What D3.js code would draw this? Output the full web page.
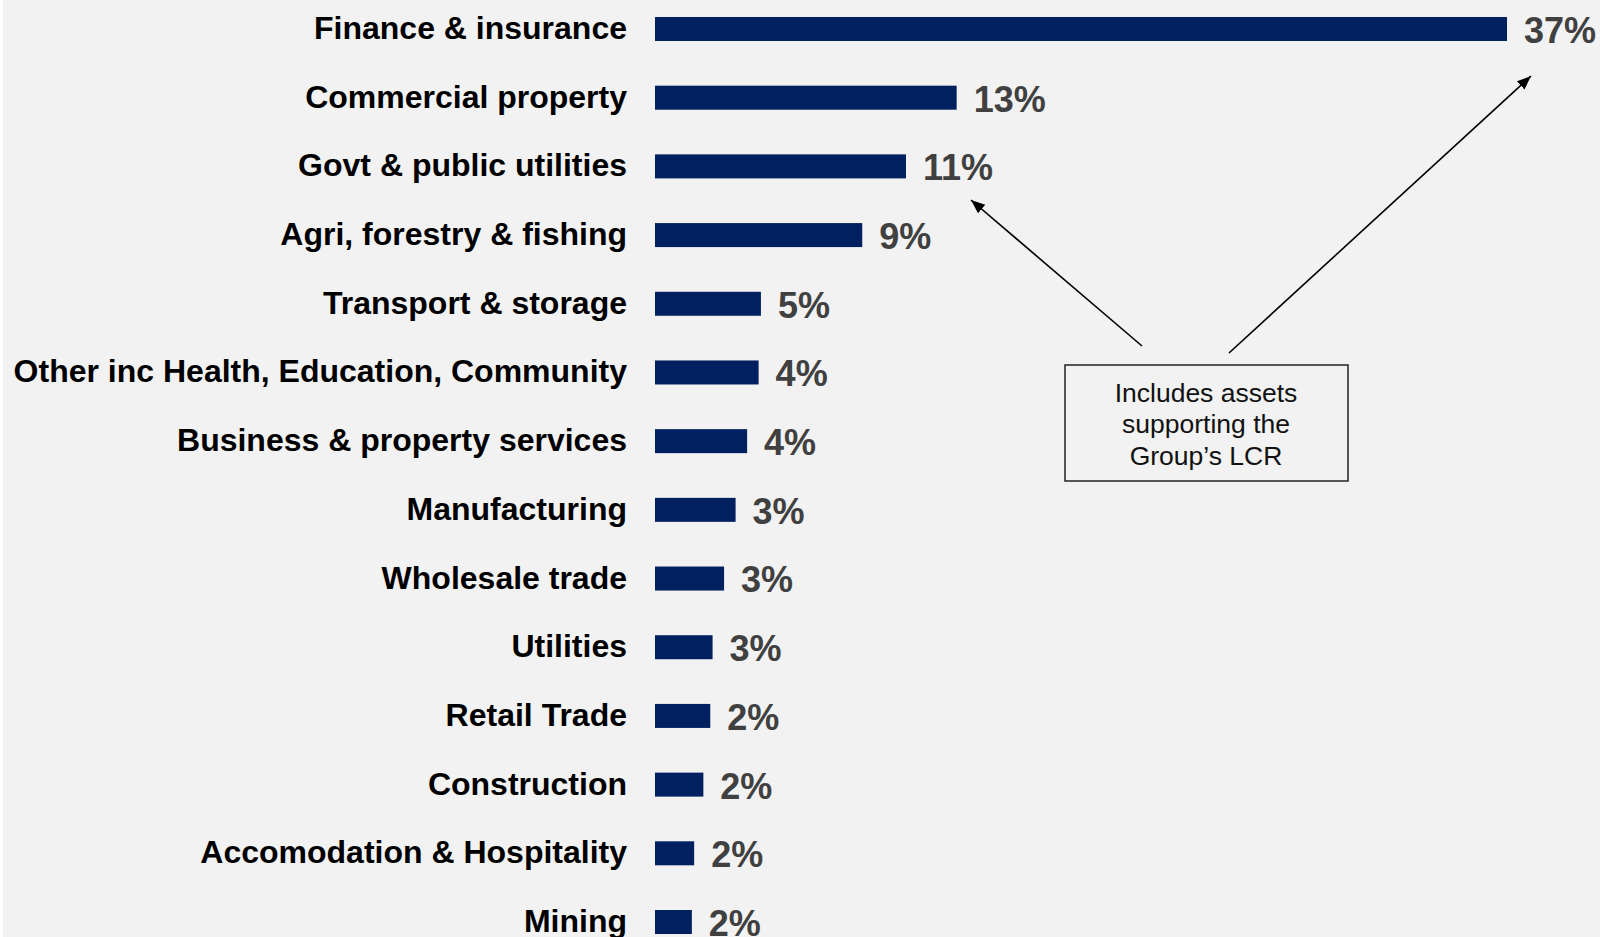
<!DOCTYPE html>
<html><head><meta charset="utf-8">
<script src="https://cdn.jsdelivr.net/npm/d3@7"></script>
<style>
html,body{margin:0;padding:0;background:#f2f2f2;}
svg{display:block;}
</style></head>
<body>
<svg id="chart" width="1600" height="937"></svg>
<script>
const categories = ["Finance & insurance","Commercial property","Govt & public utilities","Agri, forestry & fishing","Transport & storage","Other inc Health, Education, Community","Business & property services","Manufacturing","Wholesale trade","Utilities","Retail Trade","Construction","Accomodation & Hospitality","Mining"];
const values = [37, 13.1, 10.9, 9.0, 4.6, 4.5, 4.0, 3.5, 3.0, 2.5, 2.4, 2.1, 1.7, 1.6];
const valueLabels = ["37%","13%","11%","9%","5%","4%","4%","3%","3%","3%","2%","2%","2%","2%"];
const noteLines = ["Includes assets","supporting the","Group\u2019s LCR"];

const svg = d3.select("#chart");
const W = 1600, H = 937;
svg.append("rect").attr("width",W).attr("height",H).attr("fill","#f2f2f2");
svg.append("rect").attr("width",3).attr("height",H).attr("fill","#ffffff");

const x = d3.scaleLinear().domain([0, 37]).range([655, 1507]);
const y = d3.scalePoint().domain(categories).range([29, 922]);
const barH = 24;

const font = "'Liberation Sans', Arial, Helvetica, sans-serif";

svg.append("g").selectAll("rect").data(categories).join("rect")
  .attr("x", x(0))
  .attr("y", d => y(d) - barH/2)
  .attr("width", (d,i) => x(values[i]) - x(0))
  .attr("height", barH)
  .attr("fill", "#002060");

svg.append("g").selectAll("text").data(categories).join("text")
  .attr("x", 627)
  .attr("y", d => y(d) - 1.5)
  .attr("dy", "0.36em")
  .attr("text-anchor", "end")
  .attr("font-family", font)
  .attr("font-weight", "bold")
  .attr("font-size", 32)
  .attr("fill", "#000")
  .text(d => d);

svg.append("g").selectAll("text").data(categories).join("text")
  .attr("x", (d,i) => x(values[i]) + 17)
  .attr("y", d => y(d) + 1)
  .attr("dy", "0.36em")
  .attr("font-family", font)
  .attr("font-weight", "bold")
  .attr("font-size", 36)
  .attr("fill", "#404040")
  .text((d,i) => valueLabels[i]);

// annotation
const defs = svg.append("defs");
defs.append("marker").attr("id","ah").attr("viewBox","0 0 10 10")
  .attr("refX",10).attr("refY",5).attr("markerWidth",14).attr("markerHeight",14)
  .attr("markerUnits","userSpaceOnUse").attr("orient","auto")
  .append("path").attr("d","M0,1 L10,5 L0,9 Z").attr("fill","#000");

const arrows = [[1142,346,971,200],[1229,353,1531,76]];
svg.append("g").selectAll("line").data(arrows).join("line")
  .attr("x1", d=>d[0]).attr("y1", d=>d[1]).attr("x2", d=>d[2]).attr("y2", d=>d[3])
  .attr("stroke","#000").attr("stroke-width",1.6).attr("marker-end","url(#ah)");

svg.append("rect").attr("x",1065).attr("y",365).attr("width",283).attr("height",116)
  .attr("fill","none").attr("stroke","#222").attr("stroke-width",1.5);

svg.append("g").selectAll("text").data(noteLines).join("text")
  .attr("x", 1206)
  .attr("y", (d,i) => 392 + i*31.5)
  .attr("dy","0.36em")
  .attr("text-anchor","middle")
  .attr("font-family", font)
  .attr("font-size", 26.5)
  .attr("fill","#111")
  .text(d=>d);
</script>
</body></html>
